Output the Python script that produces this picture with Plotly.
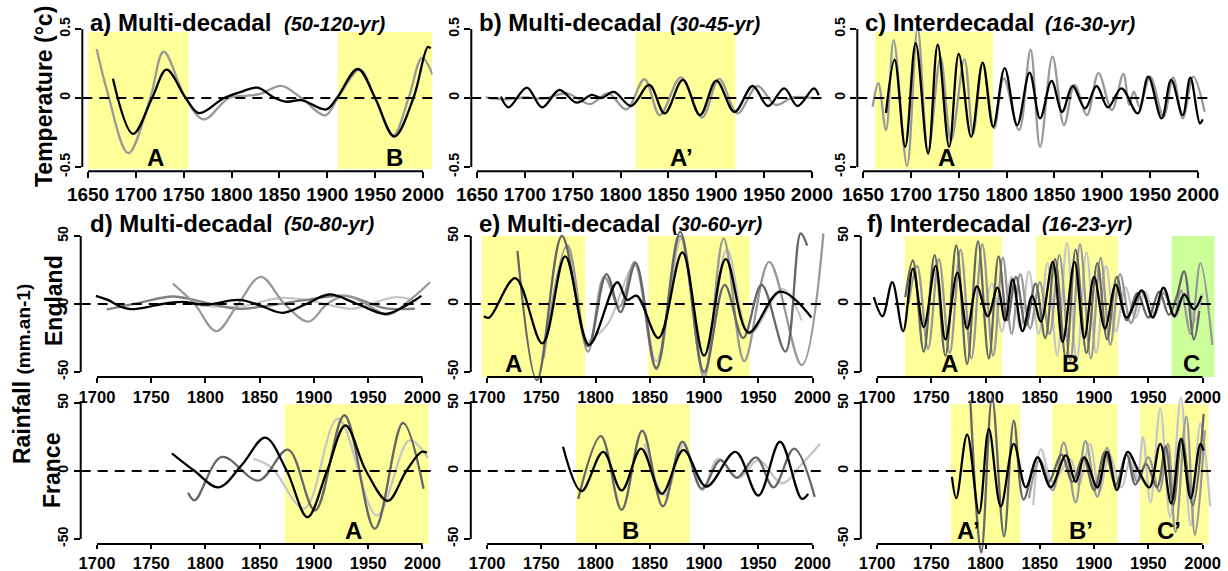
import plotly.graph_objects as go

W, H = 1228, 571
FONT = "Liberation Sans, Arial, sans-serif"

# ---------------- data ----------------
# a) Temperature, multi-decadal 50-120 yr
a_black_year = [1676, 1697, 1717, 1732, 1752, 1766, 1792, 1810, 1827, 1845, 1858, 1873, 1899, 1910, 1932, 1950, 1970, 1990, 2005, 2008]
a_black_val = [0.14, -0.26, 0.0, 0.205, 0.0, -0.11, 0.0, 0.045, 0.075, 0.0, -0.027, -0.015, -0.083, 0.0, 0.21, 0.0, -0.28, 0.0, 0.37, 0.36]
a_gray_year = [1659, 1670, 1692, 1715, 1729, 1752, 1771, 1797, 1815, 1830, 1852, 1873, 1898, 1911, 1934, 1950, 1969, 1985, 1999, 2010]
a_gray_val = [0.355, 0.05, -0.40, 0.0, 0.335, 0.0, -0.155, 0.0, 0.015, 0.03, 0.088, 0.0, -0.125, 0.0, 0.205, 0.0, -0.27, 0.0, 0.29, 0.17]

# b) Temperature, multi-decadal 30-45 yr
b_black_year = [1675, 1683, 1702, 1718, 1736, 1754, 1770, 1780, 1793, 1811, 1830, 1846, 1865, 1883, 1900, 1919, 1938, 1954, 1971, 1985, 2002, 2007]
b_black_val = [0.01, -0.068, 0.075, -0.068, 0.058, -0.034, 0.022, 0.0, 0.044, -0.058, 0.095, -0.112, 0.131, -0.124, 0.126, -0.100, 0.087, -0.058, 0.070, -0.058, 0.070, 0.02]
b_gray_year = [1659, 1680, 1700, 1720, 1744, 1768, 1787, 1806, 1825, 1841, 1863, 1885, 1903, 1922, 1943, 1962, 1980, 2000, 2011]
b_gray_val = [0.005, -0.01, 0.005, -0.005, 0.034, -0.044, 0.034, -0.083, 0.136, -0.124, 0.150, -0.141, 0.138, -0.112, 0.087, -0.050, 0.005, 0.0, 0.0]

# c) Temperature, interdecadal 16-30 yr
c_black_year = [1674, 1683, 1694, 1705, 1718, 1728, 1740, 1750, 1763, 1775, 1786, 1798, 1811, 1824, 1835, 1847, 1858, 1869, 1882, 1894, 1906, 1920, 1937, 1948, 1962, 1972, 1984, 1992, 2002, 2005]
c_black_val = [-0.107, 0.277, -0.354, 0.398, -0.403, 0.386, -0.354, 0.320, -0.282, 0.257, -0.209, 0.216, -0.197, 0.184, -0.148, 0.124, -0.100, 0.087, -0.075, 0.087, -0.068, 0.070, -0.112, 0.155, -0.148, 0.131, -0.124, 0.148, -0.184, -0.155]
c_gray_year = [1660, 1666, 1674, 1682, 1696, 1707, 1718, 1731, 1742, 1756, 1765, 1775, 1787, 1797, 1813, 1825, 1835, 1848, 1860, 1871, 1884, 1896, 1910, 1922, 1928, 1933, 1939, 1950, 1964, 1974, 1984, 1995, 2007]
c_gray_val = [-0.063, 0.107, -0.233, 0.42, -0.49, 0.507, -0.39, 0.29, -0.306, 0.28, -0.257, 0.252, -0.22, 0.143, -0.233, 0.35, -0.354, 0.30, -0.197, 0.095, -0.124, 0.18, -0.087, 0.175, -0.05, 0.046, -0.063, 0.155, -0.136, 0.15, -0.148, 0.155, -0.10]

# d) England rainfall, 50-80 yr
dE_black_year = [1699, 1710, 1722, 1731, 1745, 1760, 1778, 1800, 1831, 1850, 1871, 1893, 1914, 1940, 1966, 1985, 1999]
dE_black_val = [6, 3, -2, -3.7, -2.5, 0, 1.5, -0.5, 3, -1, -6.5, 0, 7, 0, -7.3, -1, 6]
dE_mid_year = [1770, 1790, 1810, 1830, 1851, 1873, 1895, 1912, 1929, 1948, 1968, 1990, 2007]
dE_mid_val = [15, 0, -20, 0, 20, 0, -13, 0, 6, 0, -8, 4, 16]
dE_dark_year = [1709, 1740, 1770, 1800, 1830, 1860, 1893, 1930, 1965, 1993]
dE_dark_val = [-4, 1, 5.5, 1, -3.5, -1, 3, 6, -3, -3.5]
dE_light_year = [1795, 1830, 1870, 1900, 1935, 1975, 1995]
dE_light_val = [-1, -2, 4.5, 2, -3.5, 5, 2]

# e) England rainfall, 30-60 yr
eE_black_year = [1697, 1702, 1726, 1751, 1772, 1794, 1820, 1829, 1838, 1858, 1880, 1900, 1920, 1941, 1970, 1999]
eE_black_val = [-9, -10, 19, -29, 35, -30, 16, 3, 6, -25, 38, -38, 33, -21, 9, -10]
eE_dark_year = [1728, 1746, 1769, 1793, 1810, 1823, 1837, 1856, 1878, 1900, 1919, 1936, 1953, 1975, 1989, 1995]
eE_dark_val = [39, -56, 50, -31, 22, -6, 30, -47, 53, -50, 14, -25, 14, -35, 52, 43]
eE_mid_year = [1752, 1774, 1793, 1808, 1822, 1836, 1856, 1878, 1900, 1918, 1937, 1960, 1990, 2010]
eE_mid_val = [-40, 43, -35, 20, -2, 31, -48, 50, -54, 48, -42, 31, -45, 52]
eE_light_year = [1793, 1811, 1836, 1856, 1879, 1900, 1921, 1942, 1972, 1990]
eE_light_val = [-28, -15, 28, -42, 48, -52, 40, -22, 11, -12]

# f) England rainfall, 16-23 yr
fE_black_year = [1697, 1705, 1714, 1724, 1733, 1743, 1754, 1763, 1774, 1783, 1792, 1802, 1811, 1818, 1825, 1834, 1843, 1851, 1862, 1871, 1882, 1891, 1900, 1910, 1920, 1930, 1944, 1954, 1964, 1974, 1983, 1992, 1999]
fE_black_val = [5, -9, 16, -20, 26, -17, 28, -26, 23, -18, 13, -9, 12, -12, 18, -20, 6, -13, 31, -28, 31, -25, 20, -18, 14, -10, 10, -10, 12, -9, 7, -4, 6]
fE_dark_year = [1726, 1733, 1743, 1753, 1763, 1773, 1783, 1793, 1803, 1812, 1820, 1828, 1837, 1846, 1855, 1864, 1874, 1883, 1893, 1903, 1912, 1921, 1930, 1940, 1950, 1960, 1969, 1976, 1983, 1992, 1997]
fE_dark_val = [5, 32, -35, 36, -38, 43, -44, 46, -40, 35, -12, 20, -16, 15, -25, 33, -40, 40, -36, 30, -26, 20, -12, 8, -10, 9, -8, 5, 24, -26, -5]
fE_mid_year = [1729, 1737, 1747, 1757, 1767, 1777, 1787, 1797, 1807, 1816, 1824, 1832, 1841, 1850, 1859, 1868, 1878, 1887, 1897, 1906, 1915, 1924, 1934, 1944, 1954, 1964, 1974, 1980, 1989, 1998, 2009]
fE_mid_val = [0, 28, -33, 33, -36, 40, -40, 44, -38, 34, -22, 22, -18, 16, -22, 36, -42, 44, -40, 34, -30, 22, -14, 9, -9, 8, -8, 10, -22, 30, -30]
fE_light_year = [1798, 1806, 1815, 1824, 1832, 1840, 1849, 1857, 1866, 1875, 1884, 1893, 1902, 1911, 1920, 1929, 1938, 1947, 1956, 1965, 1975, 1984, 1993, 2000]
fE_light_val = [-10, 15, -20, 20, -18, 24, -22, 30, -38, 45, -42, 38, -36, 28, -20, 12, -10, 9, -8, 10, -10, 8, -12, 8]

# d) France rainfall, 50-80 yr
dF_black_year = [1769, 1790, 1812, 1834, 1855, 1875, 1894, 1912, 1929, 1948, 1968, 1985, 1999, 2004]
dF_black_val = [13, 0, -12, 5, 24.5, 0, -34, 0, 33.5, 0, -22, 0, 14, 13.5]
dF_dark_year = [1784, 1790, 1815, 1849, 1876, 1901, 1928, 1956, 1982, 2001]
dF_dark_val = [-16, -21.6, 10.3, -7, 15.7, -29, 41, -42.4, 35.3, -13]
dF_light_year = [1844, 1861, 1891, 1922, 1958, 1988, 2005]
dF_light_val = [9, 2.5, -27.7, 38.5, -32.6, 22.5, 9.8]

# e) France rainfall, 30-60 yr
eF_black_year = [1770, 1787, 1807, 1824, 1842, 1861, 1881, 1902, 1929, 1950, 1970, 1990, 1996]
eF_black_val = [17.8, -14.8, 14, -14.3, 16.5, -16.8, 15.3, -11.4, 14, -18, 21.5, -20.5, -16.8]
eF_dark_year = [1784, 1805, 1824, 1843, 1862, 1880, 1898, 1915, 1930, 1948, 1964, 1983, 2002]
eF_dark_val = [-20.5, 25.7, -28.6, 29.6, -26, 21.5, -13, 8, -5, 10, -12, 16.5, -19]
eF_light_year = [1845, 1864, 1881, 1898, 1913, 1932, 1950, 1972, 1990, 2007]
eF_light_val = [20, -18, 19, -14, 9, -5, 8, -9, 5, 20]

# f) France rainfall, 16-23 yr
fF_black_year = [1769, 1773, 1783, 1794, 1803, 1814, 1826, 1837, 1848, 1860, 1874, 1883, 1891, 1903, 1912, 1921, 1931, 1941, 1951, 1961, 1971, 1980, 1989, 1998, 2001]
fF_black_val = [-4.4, -20, 27, -31, 31, -26, 20, -12, 10, -12, 11.5, -8, 10, -12, 14, -14, 14, 0, -12, 20, -24, 23.6, -20, 20, 15]
fF_dark_year = [1786, 1796, 1806, 1817, 1826, 1835, 1848, 1858, 1870, 1880, 1890, 1900, 1910, 1920, 1930, 1938, 1948, 1958, 1966, 1973, 1981, 1991, 2001]
fF_dark_val = [52, -60, 54, -48, 37, -21, 10, -8, 12, -8, 10, -14, 14, -10, 12, -10, 5, -12, 18, -25, 24, -25, 42]
fF_mid_year = [1840, 1850, 1862, 1872, 1883, 1892, 1903, 1912, 1921, 1930, 1940, 1950, 1960, 1968, 1975, 1985, 1993, 2002]
fF_mid_val = [-20, 8, -14, 21, -23, 22, -19, 17, -12, 12, -8, 10, -15, 20, -45, 40, -47, 30]
fF_light_year = [1844, 1851, 1862, 1878, 1886, 1896, 1905, 1914, 1925, 1934, 1940, 1945, 1952, 1961, 1970, 1980, 1989, 1998, 2007]
fF_light_val = [-25, 16, -8, 9, -10, 20, -15, 12, -12, 10, -5, 25, -23, 46, -34, 54, -40, 35, -26]

# highlighted periods
band_panel = ['a', 'a', 'b', 'c', 'eE', 'eE', 'fE', 'fE', 'fE', 'dF', 'eF', 'fF', 'fF', 'fF']
band_start = [1650, 1911, 1815.5, 1662.5, 1695, 1848.5, 1725.5, 1846.5, 1971.5, 1873, 1782, 1768, 1861.5, 1942.5]
band_end = [1755, 2009.5, 1920, 1786, 1790.5, 1942, 1815, 1922, 2011, 2005.5, 1887, 1832, 1921.5, 2005.5]
band_label = ['A', 'B', 'A\u2019', 'A', 'A', 'C', 'A', 'B', 'C', 'A', 'B', 'A\u2019', 'B\u2019', 'C\u2019']
band_label_year = [1720, 1970, 1863.5, 1737, 1724, 1919, 1767, 1878, 1990, 1936.5, 1832, 1784, 1888, 1969]
band_green = [False, False, False, False, False, False, False, False, True, False, False, False, False, False]

titles_main = ['a) Multi-decadal', 'b) Multi-decadal', 'c) Interdecadal', 'd) Multi-decadal', 'e) Multi-decadal', 'f) Interdecadal']
titles_sub = ['(50-120-yr)', '(30-45-yr)', '(16-30-yr)', '(50-80-yr)', '(30-60-yr)', '(16-23-yr)']

T_xticks = [1650, 1700, 1750, 1800, 1850, 1900, 1950, 2000]
R_xticks = [1700, 1750, 1800, 1850, 1900, 1950, 2000]
T_yticks = [-0.5, 0, 0.5]
T_yticktext = ['-0.5', '0', '0.5']
R_yticks = [-50, 0, 50]
R_yticktext = ['-50', '0', '50']

# ---------------- styles / geometry ----------------
BLACK, DARK, MID, LIGHT = '#000000', '#666666', '#999999', '#c6c6c6'
YELLOW, GREEN = '#ffff99', '#ccff99'

ROWS = {
    'T': dict(xr=(1644, 2010), scale=0.957, hi=0.5, lo=-0.5, px_hi=29, px_lo=167,
              clip=(-0.56, 0.56), axis_at=-0.53, band=(-0.515, 0.478), lab_y=-0.43,
              xt=T_xticks, yt=T_yticks, ytt=T_yticktext, xfs=19, tl=6),
    'E': dict(xr=(1685, 2012), scale=1.085, hi=50, lo=-50, px_hi=236, px_lo=372,
              clip=(-62, 58), axis_at=-53.7, band=(-53.7, 50), lab_y=-44,
              xt=R_xticks, yt=R_yticks, ytt=R_yticktext, xfs=16.5, tl=5),
    'F': dict(xr=(1685, 2012), scale=1.085, hi=50, lo=-50, px_hi=403, px_lo=539,
              clip=(-66, 60), axis_at=-53.7, band=(-53.7, 49), lab_y=-44,
              xt=R_xticks, yt=R_yticks, ytt=R_yticktext, xfs=16.5, tl=4),
}

PANELS = [
    ('a', 'T', 82.3, [(a_gray_year, a_gray_val, MID), (a_black_year, a_black_val, BLACK)]),
    ('b', 'T', 471.3, [(b_gray_year, b_gray_val, MID), (b_black_year, b_black_val, BLACK)]),
    ('c', 'T', 857.3, [(c_gray_year, c_gray_val, MID), (c_black_year, c_black_val, BLACK)]),
    ('dE', 'E', 80.7, [(dE_light_year, dE_light_val, LIGHT), (dE_dark_year, dE_dark_val, '#808080'),
                       (dE_mid_year, dE_mid_val, MID), (dE_black_year, dE_black_val, BLACK)]),
    ('eE', 'E', 470.8, [(eE_light_year, eE_light_val, LIGHT), (eE_mid_year, eE_mid_val, MID),
                        (eE_dark_year, eE_dark_val, DARK), (eE_black_year, eE_black_val, BLACK)]),
    ('fE', 'E', 860.8, [(fE_light_year, fE_light_val, LIGHT), (fE_mid_year, fE_mid_val, MID),
                        (fE_dark_year, fE_dark_val, DARK), (fE_black_year, fE_black_val, BLACK)]),
    ('dF', 'F', 80.7, [(dF_light_year, dF_light_val, LIGHT), (dF_dark_year, dF_dark_val, DARK),
                       (dF_black_year, dF_black_val, BLACK)]),
    ('eF', 'F', 470.8, [(eF_light_year, eF_light_val, LIGHT), (eF_dark_year, eF_dark_val, DARK),
                        (eF_black_year, eF_black_val, BLACK)]),
    ('fF', 'F', 860.8, [(fF_light_year, fF_light_val, LIGHT), (fF_mid_year, fF_mid_val, MID),
                        (fF_dark_year, fF_dark_val, DARK), (fF_black_year, fF_black_val, BLACK)]),
]


def ypx(row, v):
    r = ROWS[row]
    return r['px_hi'] + (r['hi'] - v) * (r['px_lo'] - r['px_hi']) / (r['hi'] - r['lo'])


fig = go.Figure()
layout = dict(width=W, height=H, margin=dict(l=0, r=0, t=0, b=0),
              paper_bgcolor='white', plot_bgcolor='white', showlegend=False,
              font=dict(family=FONT, color='black'), hovermode=False)
shapes, annotations = [], []
pinfo = {}

for i, (name, row, Lpx, series) in enumerate(PANELS):
    n = i + 1
    r = ROWS[row]
    xr0, xr1 = r['xr']
    Rpx = Lpx + (xr1 - xr0) * r['scale']
    ytop = ypx(row, r['clip'][1])
    ybot = ypx(row, r['clip'][0])
    xdom = [Lpx / W, Rpx / W]
    ydom = [1 - ybot / H, 1 - ytop / H]
    axis_y_paper = 1 - ypx(row, r['axis_at']) / H
    sfx = '' if n == 1 else str(n)
    xa, ya = 'x' + sfx, 'y' + sfx
    pinfo[name] = (xa, ya, row)

    layout['xaxis' + sfx] = dict(
        domain=xdom, range=[xr0, xr1], anchor='free', position=axis_y_paper,
        tickmode='array', tickvals=r['xt'], ticks='outside', ticklen=r['tl'], tickwidth=2,
        tickcolor='black', showline=False, showgrid=False, zeroline=False,
        tickfont=dict(size=r['xfs'], family=FONT, weight='bold', color='black'),
        fixedrange=True, automargin=False)
    layout['yaxis' + sfx] = dict(
        domain=ydom, range=list(r['clip']), anchor=xa,
        tickmode='array', tickvals=r['yt'], ticktext=r['ytt'], tickangle=-90,
        ticks='outside', ticklen=6, tickwidth=2, tickcolor='black',
        showline=False, showgrid=False, zeroline=False,
        tickfont=dict(size=14, family=FONT, weight='bold', color='black'),
        fixedrange=True, automargin=False)

    for (yrs, vals, col) in series:
        fig.add_trace(go.Scatter(x=yrs, y=vals, mode='lines', xaxis=xa, yaxis=ya,
                                 line=dict(color=col, width=2.3, shape='spline', smoothing=1.0),
                                 hoverinfo='skip'))

    # R-style axis lines (from first to last tick)
    shapes.append(dict(type='line', xref='paper', yref='paper',
                       x0=(Lpx + (r['xt'][0] - xr0) * r['scale']) / W,
                       x1=(Lpx + (r['xt'][-1] - xr0) * r['scale']) / W,
                       y0=axis_y_paper, y1=axis_y_paper,
                       line=dict(color='black', width=2)))
    shapes.append(dict(type='line', xref='paper', yref='paper',
                       x0=xdom[0], x1=xdom[0],
                       y0=1 - ypx(row, r['yt'][0]) / H, y1=1 - ypx(row, r['yt'][-1]) / H,
                       line=dict(color='black', width=2)))
    # dashed zero line
    shapes.append(dict(type='line', xref=xa + ' domain', yref=ya, x0=0, x1=1, y0=0, y1=0,
                       layer='above', line=dict(color='black', width=2, dash='10px,7px')))

# highlighted bands and letters
for p, s, e, lab, ly, g in zip(band_panel, band_start, band_end, band_label, band_label_year, band_green):
    xa, ya, row = pinfo[p]
    r = ROWS[row]
    shapes.append(dict(type='rect', xref=xa, yref=ya, x0=s, x1=e, y0=r['band'][0], y1=r['band'][1],
                       fillcolor=GREEN if g else YELLOW, line=dict(width=0), layer='below'))
    annotations.append(dict(text='<b>%s</b>' % lab, xref=xa, yref=ya, x=ly, y=r['lab_y'],
                            showarrow=False, xanchor='center', yanchor='middle',
                            font=dict(size=24, family=FONT, color='black')))

# panel titles
title_pos = [(88, 282, 23), (477, 668, 23), (863, 1043, 23),
             (88, 282, 223), (477, 670, 223), (865, 1040, 223)]
for tm, ts, (xm, xs, yc) in zip(titles_main, titles_sub, title_pos):
    annotations.append(dict(text='<b>%s</b>' % tm, xref='paper', yref='paper', x=xm / W, y=1 - yc / H,
                            showarrow=False, xanchor='left', yanchor='middle',
                            font=dict(size=24, family=FONT, color='black')))
    annotations.append(dict(text='<b><i>%s</i></b>' % ts, xref='paper', yref='paper', x=xs / W, y=1 - (yc + 1) / H,
                            showarrow=False, xanchor='left', yanchor='middle',
                            font=dict(size=20, family=FONT, color='black')))

# side labels
annotations.append(dict(text='<b>Temperature (°c)</b>', xref='paper', yref='paper', x=44 / W, y=1 - 97 / H,
                        textangle=-90, showarrow=False, xanchor='center', yanchor='middle',
                        font=dict(size=23, family=FONT, color='black')))
annotations.append(dict(text='<b>Rainfall</b> <b><span style="font-size:19px">(mm.an-1)</span></b>',
                        xref='paper', yref='paper', x=22 / W, y=1 - 374 / H,
                        textangle=-90, showarrow=False, xanchor='center', yanchor='middle',
                        font=dict(size=23, family=FONT, color='black')))
annotations.append(dict(text='<b>England</b>', xref='paper', yref='paper', x=54 / W, y=1 - 301 / H,
                        textangle=-90, showarrow=False, xanchor='center', yanchor='middle',
                        font=dict(size=23, family=FONT, color='black')))
annotations.append(dict(text='<b>France</b>', xref='paper', yref='paper', x=52 / W, y=1 - 471 / H,
                        textangle=-90, showarrow=False, xanchor='center', yanchor='middle',
                        font=dict(size=23, family=FONT, color='black')))

layout['shapes'] = shapes
layout['annotations'] = annotations
fig.update_layout(**layout)
fig.write_html('out.html', config={'displayModeBar': False, 'staticPlot': True},
               post_script="document.body.style.margin='0px';document.body.style.overflow='hidden';")
